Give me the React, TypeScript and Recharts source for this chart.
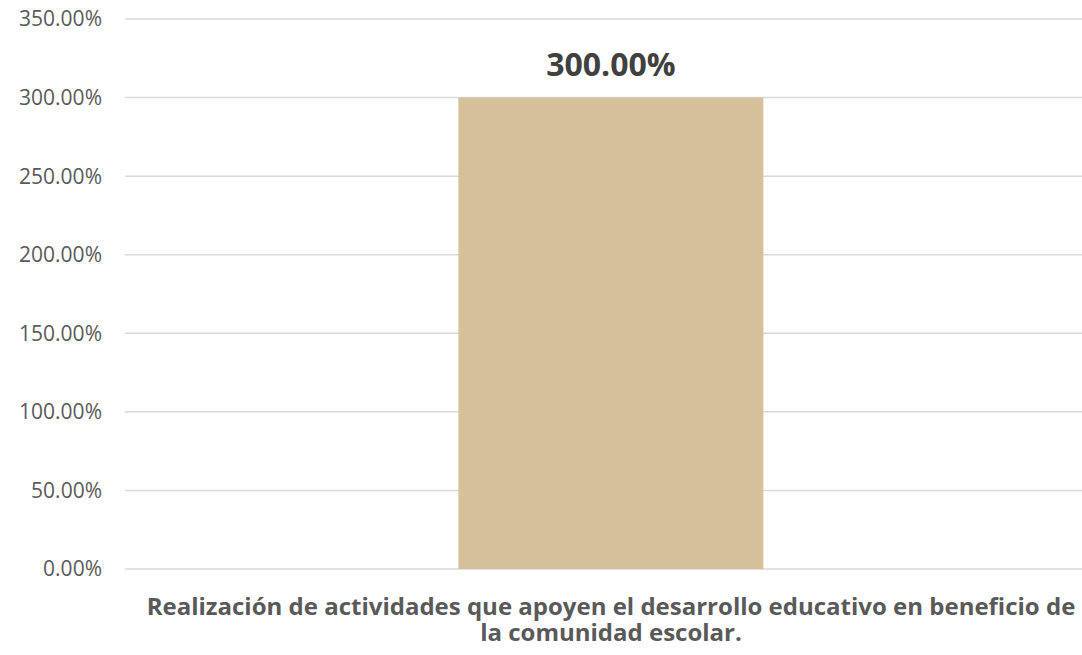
import React from "react";
import { BarChart, Bar, XAxis, YAxis, CartesianGrid, LabelList } from "recharts";

const categories = [
  "Realización de actividades que apoyen el desarrollo educativo en beneficio de la comunidad escolar.",
];
const values = [3.0];
const yTicks = [0, 0.5, 1, 1.5, 2, 2.5, 3, 3.5];

const data = categories.map((c, i) => ({ name: c, value: values[i] }));

const pct = (v: number) => (v * 100).toFixed(2) + "%";

const FONT = "'Open Sans', 'Noto Sans', sans-serif";

function wrap(text: string, maxChars: number): string[] {
  const words = text.split(" ");
  const lines: string[] = [];
  let cur = "";
  for (const w of words) {
    const next = cur ? cur + " " + w : w;
    if (next.length > maxChars && cur) {
      lines.push(cur);
      cur = w;
    } else {
      cur = next;
    }
  }
  if (cur) lines.push(cur);
  return lines;
}

const XTick = (props: any) => {
  const { x, y, payload } = props;
  const lines = wrap(String(payload.value), 78);
  return (
    <text
      x={x}
      y={y}
      textAnchor="middle"
      fill="#595959"
      fontFamily={FONT}
      fontSize={24}
      fontWeight={700}
    >
      {lines.map((l, i) => (
        <tspan key={i} x={x} y={y + 46 + i * 26}>
          {l}
        </tspan>
      ))}
    </text>
  );
};

export default function App() {
  return (
    <div
      style={{
        position: "fixed",
        left: 0,
        top: 0,
        width: 1082,
        height: 655,
        overflow: "hidden",
        background: "#ffffff",
      }}
    >
      <BarChart
        width={1110}
        height={655}
        data={data}
        margin={{ top: 19, right: 13, bottom: 0, left: 0 }}
        barCategoryGap="34.3%"
      >
        <CartesianGrid horizontal vertical={false} stroke="#d9d9d9" strokeWidth={1.5} />
        <XAxis
          dataKey="name"
          axisLine={false}
          tickLine={false}
          tickSize={0}
          tickMargin={0}
          height={86}
          tick={<XTick />}
          interval={0}
        />
        <YAxis
          width={125}
          domain={[0, 3.5]}
          ticks={yTicks}
          tickFormatter={pct}
          axisLine={false}
          tickLine={false}
          tickSize={0}
          tickMargin={23}
          tick={{ fill: "#595959", fontSize: 21, fontFamily: FONT }}
          interval={0}
        />
        <Bar dataKey="value" fill="#D5C09B" isAnimationActive={false}>
          <LabelList
            dataKey="value"
            position="top"
            offset={22}
            formatter={(v: any) => pct(Number(v))}
            fill="#404040"
            fontSize={32}
            fontWeight={700}
            fontFamily={FONT}
          />
        </Bar>
      </BarChart>
    </div>
  );
}
